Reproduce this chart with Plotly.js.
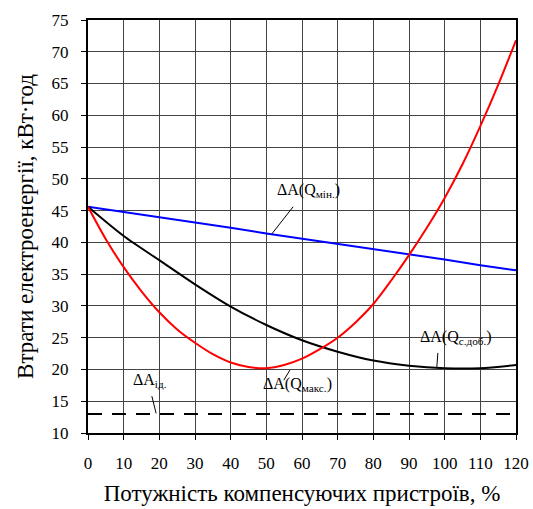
<!DOCTYPE html>
<html>
<head>
<meta charset="utf-8">
<script src="https://cdn.plot.ly/plotly-3.0.1.min.js"></script>
<style>html,body{margin:0;padding:0;background:#fff;}#chart{width:533px;height:509px;}</style>
</head>
<body>
<div id="chart"></div>
<script>
// Data
const xBlue = [0, 10, 20, 30, 40, 50, 60, 70, 80, 90, 100, 110, 120];
const qMin = [45.6, 44.8, 43.9, 43.1, 42.3, 41.4, 40.6, 39.8, 38.9, 38.1, 37.3, 36.4, 35.6];

const xRed = [0, 5, 10, 15, 20, 25, 30, 35, 40, 45, 50, 55, 60, 65, 70, 75, 80, 85, 90, 95, 100, 105, 110, 115, 120];
const qMax = [45.6, 40.5, 36.1, 32.3, 29.0, 26.3, 24.2, 22.4, 21.1, 20.4, 20.2, 20.7, 21.7, 23.2, 25.0, 27.4, 30.3, 34.0, 38.0, 42.3, 47.0, 52.3, 58.3, 64.8, 71.8];

const xBlack = [0, 10, 20, 30, 40, 50, 60, 70, 80, 90, 100, 110, 120];
const qDob = [45.6, 41.0, 37.2, 33.4, 29.9, 27.0, 24.6, 22.8, 21.4, 20.6, 20.2, 20.2, 20.7];

const xIdeal = [0, 120];
const aIdeal = [13, 13];

const xTicks = [0, 10, 20, 30, 40, 50, 60, 70, 80, 90, 100, 110, 120];
const yTicks = [10, 15, 20, 25, 30, 35, 40, 45, 50, 55, 60, 65, 70, 75];

const labels = ["ΔA(Q<sub>мін.</sub>)", "ΔA(Q<sub>макс.</sub>)", "ΔA(Q<sub>с.доб.</sub>)", "ΔA<sub>ід.</sub>"];
const labelX = [61.7, 58.6, 103.2, 17.4];
const labelY = [48.2, 17.6, 25.1, 18.2];
const leaderHeadX = [51.5, 56.6, 97.8, 19.1];
const leaderHeadY = [41.3, 19.9, 20.4, 13.1];
const leaderTailX = [57.5, 54.9, 98.1, 17.9];
const leaderTailY = [45.6, 18.3, 22.6, 15.8];

const font = "'Liberation Serif', 'Times New Roman', serif";

const traces = [
  {x: xBlue, y: qMin, mode: 'lines', line: {color: '#0000ff', width: 2}, hoverinfo: 'skip'},
  {x: xBlack, y: qDob, mode: 'lines', line: {color: '#000000', width: 2, shape: 'spline', smoothing: 0.8}, hoverinfo: 'skip'},
  {x: xRed, y: qMax, mode: 'lines', line: {color: '#ff0000', width: 2, shape: 'spline', smoothing: 0.8}, hoverinfo: 'skip'},
  {x: xIdeal, y: aIdeal, mode: 'lines', line: {color: '#000000', width: 2, dash: '14px,10px'}, hoverinfo: 'skip'}
];

const annotations = [];
const shapes = [];
for (let i = 0; i < labels.length; i++) {
  annotations.push({x: labelX[i], y: labelY[i], xref: 'x', yref: 'y', text: labels[i],
    showarrow: false, font: {family: font, size: 16, color: '#000'}});
  shapes.push({type: 'line', xref: 'x', yref: 'y',
    x0: leaderHeadX[i], y0: leaderHeadY[i], x1: leaderTailX[i], y1: leaderTailY[i],
    line: {color: '#000', width: 1}});
}

const layout = {
  width: 533, height: 509,
  margin: {l: 88, r: 17, t: 20, b: 76},
  paper_bgcolor: '#fff', plot_bgcolor: '#fff',
  showlegend: false,
  font: {family: font, color: '#000', size: 17},
  xaxis: {
    range: [0, 120], tickvals: xTicks, ticktext: xTicks.map(String),
    showgrid: true, gridcolor: '#444', gridwidth: 1,
    showline: true, linecolor: '#000', linewidth: 2, mirror: true,
    ticks: 'outside', ticklen: 5, tickcolor: '#000', tickwidth: 1,
    ticklabelstandoff: 9, zeroline: false,
    tickfont: {family: font, size: 17, color: '#000'},
    title: {text: 'Потужність компенсуючих пристроїв, %', font: {family: font, size: 23, color: '#000'}, standoff: 12}
  },
  yaxis: {
    range: [10, 75], tickvals: yTicks, ticktext: yTicks.map(String),
    showgrid: true, gridcolor: '#444', gridwidth: 1,
    showline: true, linecolor: '#000', linewidth: 2, mirror: true,
    ticks: 'outside', ticklen: 5, tickcolor: '#000', tickwidth: 1,
    ticklabelstandoff: 9, zeroline: false,
    tickfont: {family: font, size: 17, color: '#000'},
    title: {text: 'Втрати електроенергії, кВт·год', font: {family: font, size: 23, color: '#000'}, standoff: 12}
  },
  annotations: annotations,
  shapes: shapes
};

Plotly.newPlot('chart', traces, layout, {staticPlot: true, displayModeBar: false});
</script>
</body>
</html>
